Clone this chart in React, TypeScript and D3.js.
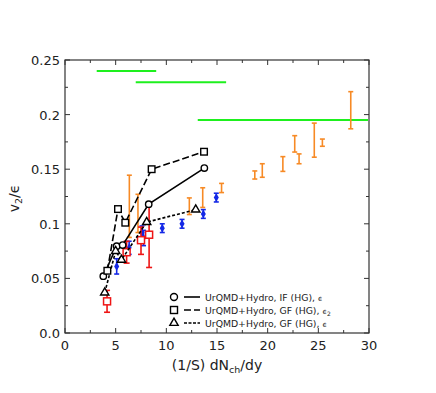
import * as d3 from "d3";

const width = 436;
const height = 393;
const marginLeft = 65;
const marginRight = 67;
const marginTop = 60;
const marginBottom = 60;

// model curves (UrQMD+Hydro)
const ifX = [3.78, 5.1, 5.69, 8.26, 13.75];
const ifY = [0.052, 0.0795, 0.0805, 0.118, 0.151];
const gfE2X = [4.18, 5.23, 5.95, 8.55, 13.72];
const gfE2Y = [0.057, 0.1135, 0.101, 0.15, 0.166];
const gfEX = [3.92, 5.0, 5.57, 8.06, 12.9];
const gfEY = [0.037, 0.075, 0.067, 0.1015, 0.113];

// red open squares with errors
const redX = [4.15, 6.08, 7.5, 8.3];
const redY = [0.029, 0.074, 0.085, 0.09];
const redLo = [0.019, 0.064, 0.072, 0.06];
const redHi = [0.039, 0.084, 0.097, 0.12];

// blue filled points
const blueX = [5.1, 6.33, 7.6, 7.75, 9.6, 11.55, 13.65, 14.93];
const blueY = [0.061, 0.078, 0.092, 0.087, 0.096, 0.1, 0.109, 0.124];
const blueErr = [0.007, 0.006, 0.006, 0.007, 0.004, 0.004, 0.004, 0.004];

// orange error bars
const orangeX = [6.35, 7.2, 12.27, 13.59, 15.45, 18.73, 19.47, 21.5, 22.67, 23.1, 24.6, 25.4, 28.2];
const orangeLo = [0.0875, 0.092, 0.1085, 0.115, 0.1286, 0.141, 0.1426, 0.148, 0.1657, 0.155, 0.161, 0.171, 0.187];
const orangeHi = [0.1445, 0.127, 0.1237, 0.133, 0.137, 0.1484, 0.155, 0.1615, 0.1807, 0.164, 0.1922, 0.1776, 0.221];

// green horizontal limits
const greenFrom = [3.13, 6.98, 13.1];
const greenTo = [9.0, 15.9, 29.9];
const greenY = [0.24, 0.2297, 0.195];

const xTicks = [0, 5, 10, 15, 20, 25, 30];
const yTicks = [0, 0.05, 0.1, 0.15, 0.2, 0.25];
const yTickLabels = ["0.0", "0.05", "0.1", "0.15", "0.2", "0.25"];

const legendLabels = ["UrQMD+Hydro, IF (HG), ", "UrQMD+Hydro, GF (HG), ", "UrQMD+Hydro, GF (HG), "];

const font = "'DejaVu Sans', sans-serif";

export default function App() {
  const x = d3.scaleLinear().domain([0, 30]).range([marginLeft, width - marginRight]);
  const y = d3.scaleLinear().domain([0, 0.25]).range([height - marginBottom, marginTop]);
  const x0 = x.range()[0], x1 = x.range()[1];
  const y0 = y.range()[0], y1 = y.range()[1];

  const line = (xs: number[], ys: number[]) =>
    d3.line<number>().x((d) => x(d)).y((_, i) => y(ys[i]))(xs) || "";

  const minorX = d3.range(0, 30.01, 2.5);
  const minorY = d3.range(0, 0.2501, 0.025);
  const tri = d3.symbol().type(d3.symbolTriangle).size(30)() || "";
  const diamond = d3.symbol().type(d3.symbolDiamond).size(22)() || "";

  const errBar = (cx: number, lo: number, hi: number, color: string, key: string, cap = 3) => (
    <g key={key} stroke={color} strokeWidth={1.6}>
      <line x1={x(cx)} x2={x(cx)} y1={y(lo)} y2={y(hi)} />
      <line x1={x(cx) - cap} x2={x(cx) + cap} y1={y(lo)} y2={y(lo)} />
      <line x1={x(cx) - cap} x2={x(cx) + cap} y1={y(hi)} y2={y(hi)} />
    </g>
  );

  const legendY = [297, 310, 323];

  return (
    <svg width={width} height={height} style={{ position: "absolute", left: 0, top: 0 }} fontFamily={font}>
      <rect width={width} height={height} fill="white" />

      {/* green limits */}
      {greenY.map((g, i) => (
        <line key={"g" + i} x1={x(greenFrom[i])} x2={x(greenTo[i])} y1={y(g)} y2={y(g)} stroke="#1ef01e" strokeWidth={2} />
      ))}

      {/* orange bars */}
      {orangeX.map((ox, i) => errBar(ox, orangeLo[i], orangeHi[i], "#f78a25", "o" + i, 2.5))}

      {/* blue points */}
      {blueX.map((bx, i) => (
        <g key={"b" + i}>
          {errBar(bx, blueY[i] - blueErr[i], blueY[i] + blueErr[i], "#1428e6", "be" + i, 2.5)}
          <path d={diamond} transform={`translate(${x(bx)},${y(blueY[i])})`} fill="#1428e6" />
        </g>
      ))}

      {/* red points */}
      {redX.map((rx, i) => (
        <g key={"r" + i}>
          {errBar(rx, redLo[i], redHi[i], "#ee1515", "re" + i, 3)}
          <rect x={x(rx) - 3.5} y={y(redY[i]) - 3.5} width={7} height={7} fill="white" stroke="#ee1515" strokeWidth={1.5} />
        </g>
      ))}

      {/* model lines */}
      <path d={line(ifX, ifY)} fill="none" stroke="black" strokeWidth={1.6} />
      <path d={line(gfE2X, gfE2Y)} fill="none" stroke="black" strokeWidth={1.6} strokeDasharray="7,3" />
      <path d={line(gfEX, gfEY)} fill="none" stroke="black" strokeWidth={1.6} strokeDasharray="3,2" />
      {ifX.map((v, i) => (
        <circle key={"c" + i} cx={x(v)} cy={y(ifY[i])} r={3.2} fill="white" stroke="black" strokeWidth={1.4} />
      ))}
      {gfE2X.map((v, i) => (
        <rect key={"s" + i} x={x(v) - 3.3} y={y(gfE2Y[i]) - 3.3} width={6.6} height={6.6} fill="white" stroke="black" strokeWidth={1.4} />
      ))}
      {gfEX.map((v, i) => (
        <path key={"t" + i} d={tri} transform={`translate(${x(v)},${y(gfEY[i])})`} fill="white" stroke="black" strokeWidth={1.4} />
      ))}

      {/* frame and ticks */}
      <rect x={x0} y={y1} width={x1 - x0} height={y0 - y1} fill="none" stroke="#333" strokeWidth={1.2} />
      {minorX.map((t, i) => {
        const len = i % 2 === 0 ? 5 : 3;
        return (
          <g key={"xt" + i} stroke="#333" strokeWidth={1}>
            <line x1={x(t)} x2={x(t)} y1={y0} y2={y0 - len} />
            <line x1={x(t)} x2={x(t)} y1={y1} y2={y1 + len} />
          </g>
        );
      })}
      {minorY.map((t, i) => {
        const len = i % 2 === 0 ? 5 : 3;
        return (
          <g key={"yt" + i} stroke="#333" strokeWidth={1}>
            <line x1={x0} x2={x0 + len} y1={y(t)} y2={y(t)} />
            <line x1={x1} x2={x1 - len} y1={y(t)} y2={y(t)} />
          </g>
        );
      })}
      {xTicks.map((t) => (
        <text key={"xl" + t} x={x(t)} y={y0 + 17} textAnchor="middle" fontSize={13} fill="#222">
          {t}
        </text>
      ))}
      {yTicks.map((t, i) => (
        <text key={"yl" + t} x={x0 - 5} y={y(t) + 5} textAnchor="end" fontSize={13} fill="#222">
          {yTickLabels[i]}
        </text>
      ))}

      {/* axis titles */}
      <text x={(x0 + x1) / 2} y={y0 + 37} textAnchor="middle" fontSize={14} fill="#222">
        (1/S) dN<tspan fontSize={9.5} dy={3}>ch</tspan>
        <tspan dy={-3}>/dy</tspan>
      </text>
      <text transform={`translate(${x0 - 46},${(y0 + y1) / 2 + 2}) rotate(-90)`} textAnchor="middle" fontSize={14} fill="#222">
        v<tspan fontSize={9.5} dy={3}>2</tspan>
        <tspan dy={-3}>/ϵ</tspan>
      </text>

      {/* legend */}
      <g fill="#222">
        <circle cx={174} cy={legendY[0]} r={3.5} fill="white" stroke="black" strokeWidth={1.4} />
        <line x1={184} x2={200} y1={legendY[0]} y2={legendY[0]} stroke="black" strokeWidth={1.6} />
        <rect x={170.5} y={legendY[1] - 3.5} width={7} height={7} fill="white" stroke="black" strokeWidth={1.4} />
        <line x1={184} x2={200} y1={legendY[1]} y2={legendY[1]} stroke="black" strokeWidth={1.6} strokeDasharray="7,3" />
        <path d={tri} transform={`translate(174,${legendY[2]})`} fill="white" stroke="black" strokeWidth={1.4} />
        <line x1={184} x2={200} y1={legendY[2]} y2={legendY[2]} stroke="black" strokeWidth={1.6} strokeDasharray="3,1.5" />
        {legendLabels.map((l, i) => (
          <text key={"lg" + i} x={205} y={legendY[i] + 3.5} fontSize={9.3}>
            {l}
            <tspan fontSize={7.5}>ϵ</tspan>
            {i === 1 ? <tspan fontSize={6} dy={2}>2</tspan> : null}
          </text>
        ))}
      </g>
    </svg>
  );
}
